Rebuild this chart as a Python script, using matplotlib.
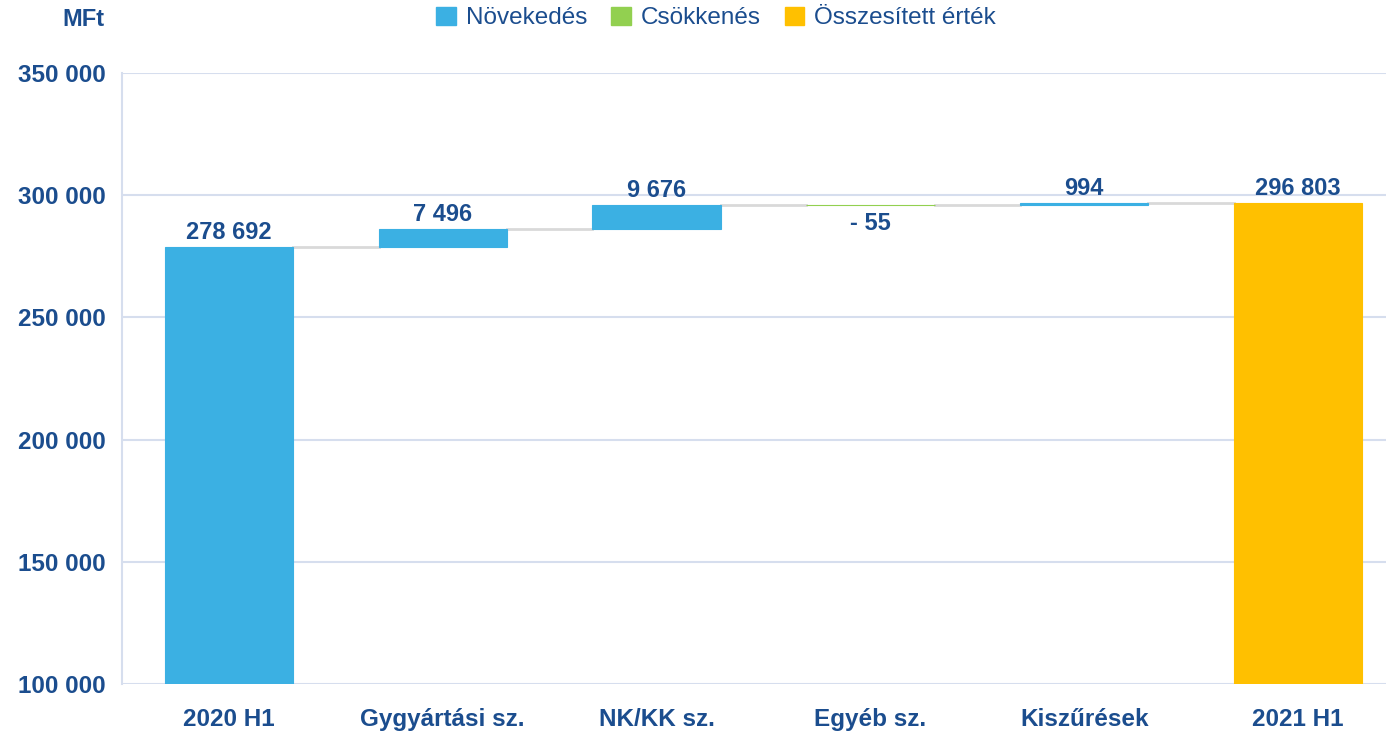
import matplotlib.pyplot as plt
import numpy as np
from matplotlib.patches import Patch

# Waterfall data (MFt)
categories = ["2020 H1", "Gygyártási sz.", "NK/KK sz.", "Egyéb sz.", "Kiszűrések", "2021 H1"]
start_value = 278692
changes = [7496, 9676, -55, 994]
end_value = 296803
labels = ["278 692", "7 496", "9 676", "- 55", "994", "296 803"]
y_ticks = [100000, 150000, 200000, 250000, 300000, 350000]
y_tick_labels = ["100 000", "150 000", "200 000", "250 000", "300 000", "350 000"]

c_up = "#3BB0E3"
c_down = "#92D050"
c_total = "#FFC000"
c_text = "#1B4D8E"
c_grid = "#D6DEEE"

plt.rcParams["font.family"] = ["Liberation Sans", "DejaVu Sans"]

fig = plt.figure(figsize=(13.86, 7.31), dpi=100)
ax = fig.add_axes([122 / 1386, 1 - 684 / 731, (1405 - 122) / 1386, (684 - 73) / 731])

x = np.arange(len(categories))
w = 0.6

# running totals
bottoms = [0]
heights = [start_value]
colors = [c_up]
level = start_value
levels = [level]
for ch in changes:
    if ch >= 0:
        bottoms.append(level)
        heights.append(ch)
        colors.append(c_up)
    else:
        bottoms.append(level + ch)
        heights.append(-ch)
        colors.append(c_down)
    level += ch
    levels.append(level)
bottoms.append(0)
heights.append(end_value)
colors.append(c_total)

# thin edge so tiny changes still show as a line
ax.bar(x, heights, bottom=bottoms, width=w, color=colors, edgecolor=colors,
       linewidth=0.8, zorder=3)

# connector lines
for i in range(len(categories) - 1):
    ax.plot([x[i] + w / 2, x[i + 1] - w / 2], [levels[i], levels[i]],
            color="#D9D9D9", lw=2, zorder=2)

# value labels
for i, lab in enumerate(labels):
    top = bottoms[i] + heights[i]
    if 0 < i < len(categories) - 1 and changes[i - 1] < 0:
        ax.text(x[i], bottoms[i] - 2500, lab, ha="center", va="top",
                fontsize=17, fontweight="bold", color=c_text)
    else:
        ax.text(x[i], top + 1200, lab, ha="center", va="bottom",
                fontsize=17, fontweight="bold", color=c_text)

ax.set_xlim(-0.5, 5.5)
ax.set_ylim(100000, 350000)
ax.set_yticks(y_ticks)
ax.set_yticklabels(y_tick_labels)
ax.set_xticks(x)
ax.set_xticklabels(categories)
ax.tick_params(length=0, labelsize=17.5, labelcolor=c_text)
ax.tick_params(axis="x", pad=17)
ax.tick_params(axis="y", pad=12)
for t in ax.get_xticklabels() + ax.get_yticklabels():
    t.set_fontweight("bold")
ax.grid(axis="y", color=c_grid, lw=1.5, zorder=0)
for s in ["top", "right", "bottom"]:
    ax.spines[s].set_visible(False)
ax.spines["left"].set_color(c_grid)
ax.spines["left"].set_linewidth(1.5)

fig.text(83 / 1386, 1 - 20 / 731, "MFt", ha="center", va="center",
         fontsize=17, fontweight="bold", color=c_text)

handles = [Patch(color=c_up, label="Növekedés"),
           Patch(color=c_down, label="Csökkenés"),
           Patch(color=c_total, label="Összesített érték")]
leg = fig.legend(handles=handles, loc="center", bbox_to_anchor=(716 / 1386, 1 - 18 / 731),
                 ncol=3, frameon=False, fontsize=17.5, handlelength=0.8, handleheight=0.8,
                 handletextpad=0.4, columnspacing=1.0)
for t in leg.get_texts():
    t.set_color(c_text)

fig.savefig("out.png", dpi=100)
